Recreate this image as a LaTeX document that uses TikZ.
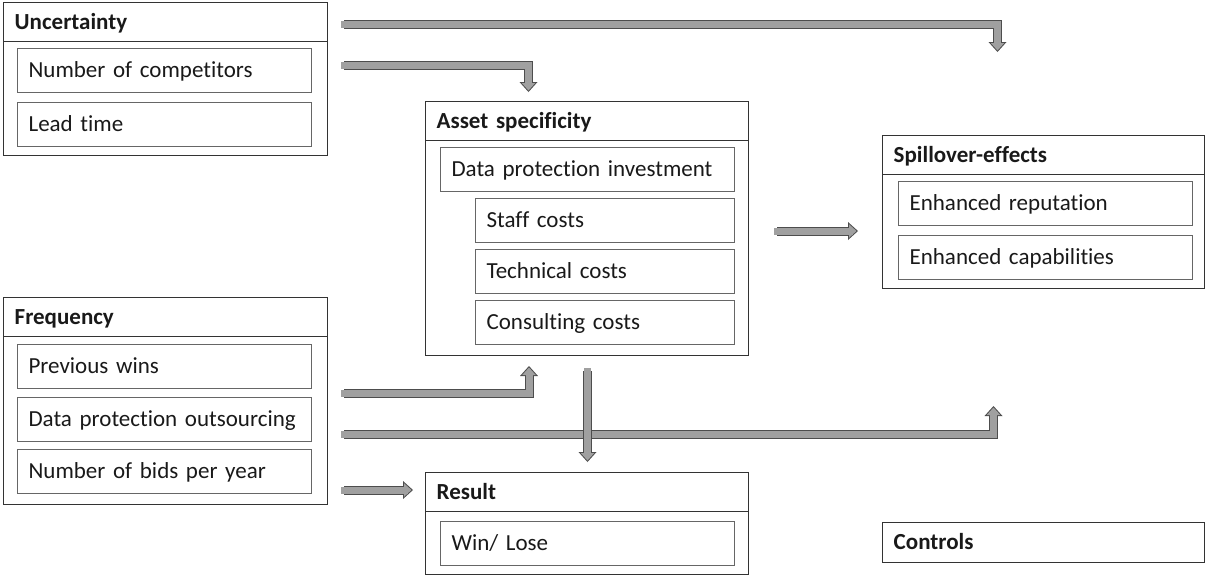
\documentclass[tikz,border=0pt]{standalone}
\usepackage{fontspec}
\setmainfont{Carlito}[Ligatures=NoCommon]
\usetikzlibrary{arrows.meta}
\definecolor{arrowFill}{HTML}{A0A0A0}
\definecolor{arrowLine}{HTML}{4D4D4D}
\begin{document}
\begin{tikzpicture}[x=0.5pt,y=-0.5pt]
\fontsize{11.5pt}{14pt}\selectfont
  \tikzstyle{frameStyle}=[draw=black!80,line width=0.7pt,anchor=north west,inner sep=0pt]
  \tikzstyle{headStyle}=[draw=black!80,line width=0.7pt,anchor=north west,minimum height=19.5pt,inner xsep=5.5pt,text width=151pt,align=left,text height=9pt,text depth=2pt,font=\bfseries,text=black!90]
  \tikzstyle{itemStyle}=[draw=black!60,line width=0.6pt,anchor=north west,minimum height=22pt,inner xsep=5.5pt,text width=136pt,align=left,text height=9pt,text depth=2pt,text=black!90]
  \tikzstyle{blockArrow}=[draw=arrowFill,line width=3.5pt,line cap=rect,shorten >=0.75pt,-{Triangle[length=3.75pt,width=6.75pt,line width=0pt]},
    preaction={draw=arrowLine,line width=4.5pt,shorten >=0pt,-{Triangle[length=5pt,width=9pt,line width=0pt]}}]

  \useasboundingbox (0,0) rectangle (1205,575);

  \begin{scope}
   \node[frameStyle,minimum width=162pt,minimum height=76.5pt](uncertaintyBox) at (3,2) {};
   \node[headStyle](uncertainty) at (3,2) {Uncertainty};
   \node[itemStyle](competitors) at (17,48) {Number of competitors};
   \node[itemStyle](leadtime) at (17,102) {Lead time};

   \node[frameStyle,minimum width=162pt,minimum height=103.5pt](frequencyBox) at (3,297) {};
   \node[headStyle](frequency) at (3,297) {Frequency};
   \node[itemStyle](wins) at (17,344) {Previous wins};
   \node[itemStyle](outsourcing) at (17,397) {Data protection outsourcing};
   \node[itemStyle](bids) at (17,449) {Number of bids per year};

   \node[frameStyle,minimum width=161.5pt,minimum height=127pt](assetBox) at (425,101) {};
   \node[headStyle,text width=150.5pt](asset) at (425,101) {Asset specificity};
   \node[itemStyle](investment) at (440,147) {Data protection investment};
   \node[itemStyle,text width=118.5pt](staff) at (475,198) {Staff costs};
   \node[itemStyle,text width=118.5pt](technical) at (475,249) {Technical costs};
   \node[itemStyle,text width=118.5pt](consulting) at (475,300) {Consulting costs};

   \node[frameStyle,minimum width=161pt,minimum height=76.5pt](spilloverBox) at (882,135) {};
   \node[headStyle,text width=150pt](spillover) at (882,135) {Spillover-effects};
   \node[itemStyle](reputation) at (898,181) {Enhanced reputation};
   \node[itemStyle](capabilities) at (898,235) {Enhanced capabilities};

   \node[frameStyle,minimum width=161.5pt,minimum height=51pt](resultBox) at (425,472) {};
   \node[headStyle,text width=150.5pt](result) at (425,472) {Result};
   \node[itemStyle](winlose) at (440,521) {Win/ Lose};

   \node[headStyle,text width=150pt,minimum height=20pt](controls) at (882,522) {Controls};
  \end{scope}

  % block arrows
  \coordinate (topStart) at (344,24.5);
  \coordinate (topTip) at (997.5,52);
  \draw[blockArrow] (topStart) -| (topTip);
  \coordinate (uncStart) at (344,65);
  \coordinate (uncTip) at (528.5,92);
  \draw[blockArrow] (uncStart) -| (uncTip);
  \coordinate (winsStart) at (344,393);
  \coordinate (winsTip) at (529,366);
  \draw[blockArrow] (winsStart) -| (winsTip);
  \coordinate (outStart) at (344,434.5);
  \coordinate (outTip) at (993.5,406);
  \draw[blockArrow] (outStart) -| (outTip);
  \coordinate (assetStart) at (587.5,371);
  \coordinate (assetTip) at (587.5,462);
  \draw[blockArrow] (assetStart) -- (assetTip);
  \coordinate (bidsStart) at (344,490);
  \coordinate (bidsTip) at (413,490);
  \draw[blockArrow] (bidsStart) -- (bidsTip);
  \coordinate (spillStart) at (777,231);
  \coordinate (spillTip) at (858,231);
  \draw[blockArrow] (spillStart) -- (spillTip);

\end{tikzpicture}
\end{document}
